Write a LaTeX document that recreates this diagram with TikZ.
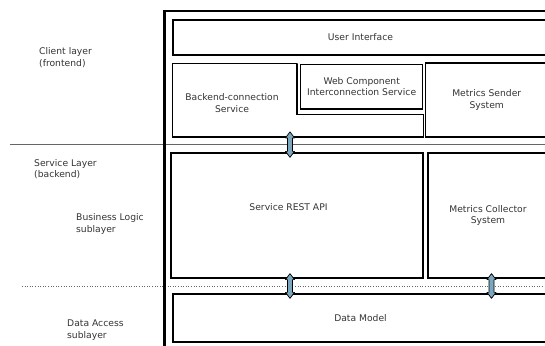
\documentclass[tikz,border=0pt]{standalone}
\usepackage{fontspec}
\setmainfont{DejaVu Sans}
\usetikzlibrary{calc}

\definecolor{linkblue}{HTML}{7BA7BE}
\tikzset{
  layer/.style={draw, line width=1.25pt, inner sep=0pt, align=center, text=black!80},
  caption/.style={inner sep=0pt, align=left, anchor=west, text=black!80},
  boxtext/.style={inner sep=0pt, align=center, text=black!80},
  linkfill/.style={draw=black, line width=0.7pt, fill=linkblue, line join=round},
}
% double headed block arrow between two points
\newcommand\linkarrow[2]{%
  \draw[linkfill] let \p1=(#1), \p2=(#2) in
    (\x1,\y1+5pt) -- (\x1+4.5pt,\y1-1pt) -- (\x1+2.5pt,\y1-1pt)
    -- (\x2+2.5pt,\y2+1pt) -- (\x2+4.5pt,\y2+1pt) -- (\x2,\y2-5pt)
    -- (\x2-4.5pt,\y2+1pt) -- (\x2-2.5pt,\y2+1pt) -- (\x1-2.5pt,\y1-1pt)
    -- (\x1-4.5pt,\y1-1pt) -- cycle;}

\begin{document}
\begin{tikzpicture}[x=1pt, y=-1pt, every node/.append style={font=\fontsize{9.2}{11.6}\selectfont}]
\useasboundingbox (0,0) rectangle (545,345);
\clip (0,0) rectangle (545,345);
% layer separators
\draw [black!60, line width=0.8pt] (10,144) -- (560,144);
\draw [black!60, dotted, line width=0.6pt] (22,286) -- (560,286);
% frame
\draw [line width=2.4pt] (164.5,360) |- (560,11);
% client layer
\node [layer, minimum width=375pt, minimum height=35pt] (ui) at (360.5,37.4) {User Interface};
\node [layer, minimum width=122pt, minimum height=44.7pt] (web) at (361.7,86.65) {Web Component\\Interconnection Service};
\node [inner sep=0pt, minimum width=250.3pt, minimum height=72.7pt] (bcs) at (298.15,100.35) {};
\draw [line width=1.25pt] (bcs.north west) -| ([xshift=-3pt]web.north west)
  |- ([yshift=-5pt]web.south -| bcs.east) -- (bcs.south east) -- (bcs.south west) -- cycle;
\node [boxtext] (bcstxt) at (232,103) {Backend-connection\\Service};
\node [layer, minimum width=122.5pt, minimum height=74pt] (ms) at (486.75,100) {Metrics Sender\\System};
% service layer
\node [layer, minimum width=252pt, minimum height=125pt] (api) at (297,215.5) {};
\node [boxtext] (apitxt) at (288.5,207) {Service REST API};
\node [layer, minimum width=120pt, minimum height=125pt] (mc) at (488,215.5) {Metrics Collector\\System};
\node [layer, minimum width=375pt, minimum height=48pt] (dm) at (360.5,318) {Data Model};
% links
\coordinate (lx) at (290,0);
\coordinate (rx) at (491.5,0);
\linkarrow{bcs.south -| lx}{api.north -| lx}
\linkarrow{api.south -| lx}{dm.north -| lx}
\linkarrow{mc.south -| rx}{dm.north -| rx}
% captions
\node [caption] (client) at (39,57.5) {Client layer\\(frontend)};
\node [caption] (service) at (34,169) {Service Layer\\(backend)};
\node [caption] (business) at (76,224) {Business Logic\\sublayer};
\node [caption] (dataacc) at (67,330) {Data Access\\sublayer};
\end{tikzpicture}
\end{document}
